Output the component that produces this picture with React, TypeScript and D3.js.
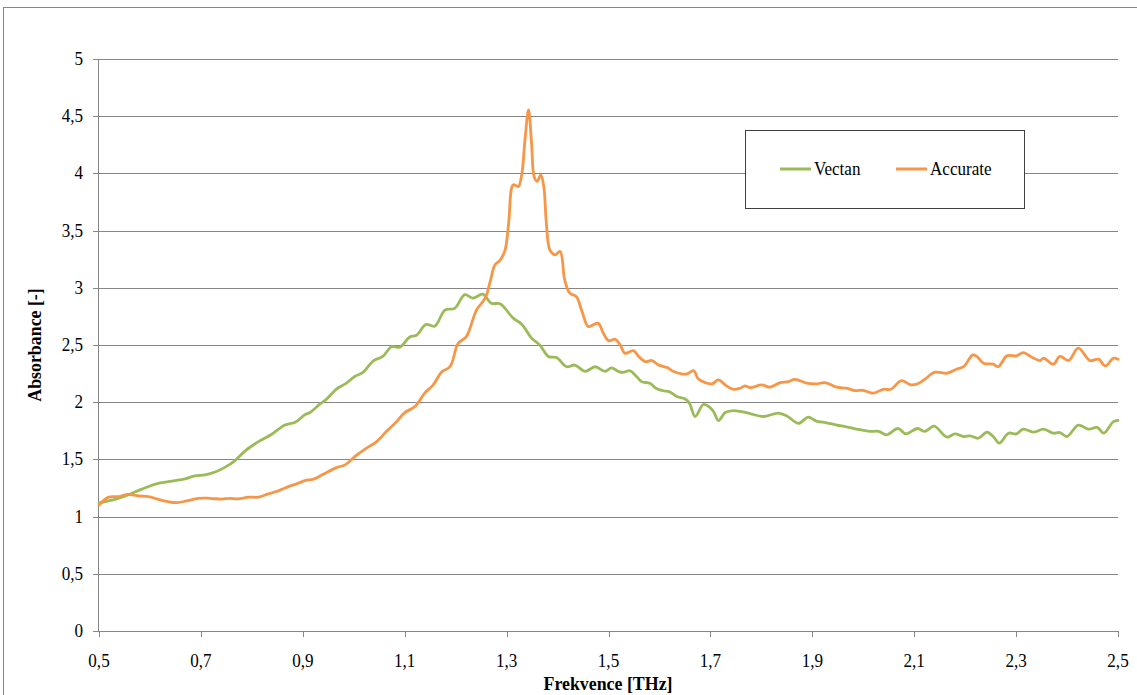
import React from 'react';
import * as d3 from 'd3';

// Absorbance spectra (frequency in THz)
const vectanFreq = [
  0.5, 0.531, 0.557, 0.584, 0.616, 0.643, 0.669, 0.688, 0.708, 0.728, 0.747, 0.767, 0.787, 0.813, 0.839,
  0.865, 0.885, 0.904, 0.914, 0.934, 0.945, 0.966, 0.985, 1.002, 1.018, 1.038, 1.057, 1.074, 1.09, 1.11,
  1.123, 1.142, 1.159, 1.179, 1.198, 1.218, 1.234, 1.253, 1.27, 1.287, 1.313, 1.33, 1.349, 1.365, 1.382,
  1.398, 1.418, 1.434, 1.454, 1.474, 1.493, 1.506, 1.519, 1.529, 1.542, 1.555, 1.565, 1.581, 1.594, 1.607,
  1.62, 1.634, 1.65, 1.659, 1.67, 1.686, 1.696, 1.706, 1.716, 1.729, 1.742, 1.758, 1.778, 1.804, 1.833,
  1.85, 1.873, 1.892, 1.908, 1.928, 1.948, 1.967, 1.987, 2.013, 2.03, 2.046, 2.068, 2.084, 2.106, 2.121,
  2.139, 2.164, 2.18, 2.197, 2.21, 2.226, 2.243, 2.255, 2.267, 2.285, 2.301, 2.314, 2.334, 2.354, 2.373,
  2.386, 2.4, 2.422, 2.442, 2.459, 2.472, 2.491, 2.5,
];
const vectanValues = [
  1.12, 1.15, 1.19, 1.24, 1.29, 1.31, 1.33, 1.355, 1.365, 1.39, 1.43, 1.49, 1.575, 1.655, 1.72,
  1.8, 1.825, 1.89, 1.91, 1.985, 2.02, 2.115, 2.165, 2.225, 2.26, 2.36, 2.4, 2.485, 2.48, 2.57,
  2.585, 2.68, 2.665, 2.805, 2.82, 2.94, 2.91, 2.945, 2.865, 2.86, 2.735, 2.68, 2.56, 2.5, 2.4,
  2.39, 2.31, 2.325, 2.27, 2.31, 2.27, 2.3, 2.27, 2.26, 2.275, 2.225, 2.18, 2.165, 2.12, 2.1,
  2.09, 2.05, 2.03, 1.99, 1.875, 1.98, 1.965, 1.92, 1.84, 1.91, 1.925, 1.92, 1.9, 1.875, 1.905,
  1.88, 1.815, 1.87, 1.835, 1.82, 1.8, 1.785, 1.765, 1.745, 1.745, 1.715, 1.77, 1.723, 1.77, 1.745,
  1.79, 1.695, 1.723, 1.7, 1.705, 1.685, 1.738, 1.7, 1.642, 1.729, 1.723, 1.764, 1.738, 1.764, 1.729,
  1.735, 1.7, 1.8, 1.764, 1.78, 1.729, 1.83, 1.84,
];

const accurateFreq = [
  0.5, 0.519, 0.539, 0.555, 0.578, 0.597, 0.617, 0.636, 0.653, 0.672, 0.695, 0.718, 0.741, 0.757, 0.773,
  0.793, 0.813, 0.832, 0.852, 0.872, 0.888, 0.904, 0.921, 0.94, 0.966, 0.983, 1.002, 1.025, 1.045, 1.064,
  1.084, 1.1, 1.12, 1.14, 1.156, 1.172, 1.189, 1.205, 1.221, 1.241, 1.258, 1.267, 1.277, 1.287, 1.297,
  1.304, 1.313, 1.323, 1.33, 1.336, 1.343, 1.349, 1.354, 1.36, 1.367, 1.373, 1.378, 1.385, 1.395, 1.405,
  1.414, 1.424, 1.437, 1.447, 1.46, 1.47, 1.48, 1.49, 1.5, 1.513, 1.523, 1.532, 1.549, 1.559, 1.572,
  1.585, 1.598, 1.615, 1.628, 1.644, 1.654, 1.667, 1.676, 1.69, 1.703, 1.716, 1.729, 1.745, 1.758, 1.768,
  1.778, 1.801, 1.817, 1.837, 1.853, 1.866, 1.889, 1.908, 1.925, 1.948, 1.967, 1.984, 2.0, 2.02, 2.039,
  2.054, 2.075, 2.092, 2.105, 2.12, 2.141, 2.164, 2.183, 2.197, 2.215, 2.223, 2.236, 2.255, 2.265, 2.282,
  2.301, 2.314, 2.331, 2.347, 2.354, 2.373, 2.386, 2.403, 2.422, 2.445, 2.462, 2.475, 2.491, 2.5,
];
const accurateValues = [
  1.1, 1.17, 1.175, 1.195, 1.18, 1.175, 1.15, 1.13, 1.122, 1.137, 1.16, 1.16, 1.152, 1.16, 1.155,
  1.17, 1.17, 1.198, 1.225, 1.262, 1.286, 1.315, 1.327, 1.37, 1.428, 1.452, 1.525, 1.598, 1.656, 1.743,
  1.83, 1.909, 1.962, 2.084, 2.151, 2.262, 2.311, 2.515, 2.573, 2.807, 2.909, 3.04, 3.2, 3.24, 3.33,
  3.565, 3.9, 3.885, 4.0, 4.29, 4.555, 4.264, 3.972, 3.93, 3.987, 3.885, 3.565, 3.33, 3.288, 3.317,
  3.07, 2.953, 2.923, 2.807, 2.661, 2.676, 2.69, 2.603, 2.538, 2.55, 2.5, 2.428, 2.451, 2.4, 2.355,
  2.364, 2.326, 2.303, 2.268, 2.247, 2.247, 2.276, 2.204, 2.171, 2.16, 2.195, 2.151, 2.113, 2.122, 2.142,
  2.128, 2.151, 2.131, 2.171, 2.18, 2.2, 2.166, 2.16, 2.171, 2.131, 2.122, 2.101, 2.104, 2.079, 2.113,
  2.113, 2.188, 2.154, 2.158, 2.198, 2.262, 2.253, 2.288, 2.311, 2.413, 2.4, 2.341, 2.332, 2.311, 2.405,
  2.405, 2.434, 2.393, 2.364, 2.384, 2.332, 2.4, 2.364, 2.472, 2.364, 2.376, 2.317, 2.384, 2.376,
];

const xTicks = [0.5, 0.7, 0.9, 1.1, 1.3, 1.5, 1.7, 1.9, 2.1, 2.3, 2.5];
const yTicks = [0, 0.5, 1, 1.5, 2, 2.5, 3, 3.5, 4, 4.5, 5];
const seriesNames = ['Vectan', 'Accurate'];
const seriesColors = ['#9bbb59', '#f79646'];

const W = 1137;
const H = 695;
const plot = { left: 99, right: 1118, top: 59, bottom: 631 };
const font = "'Liberation Serif', 'DejaVu Serif', serif";
const axisGray = '#868686';
const textStyle = { fontFamily: font };

const fmt = (v: number) => String(v).replace('.', ',');

// the source picture was squeezed sideways, so its serif text looks narrow
const Label = ({ x, y, anchor = 'start', bold = false, size = 19, sx = 0.9, rotate = 0, children }: any) => (
  <text
    transform={`translate(${x},${y}) rotate(${rotate}) scale(${sx},1)`}
    textAnchor={anchor}
    fontSize={size}
    fontWeight={bold ? 'bold' : 'normal'}
    fill="#000"
    style={textStyle}
  >
    {children}
  </text>
);

export default function App() {
  const x = d3.scaleLinear().domain([0.5, 2.5]).range([plot.left, plot.right]);
  const y = d3.scaleLinear().domain([0, 5]).range([plot.bottom, plot.top]);

  const line = d3
    .line<[number, number]>()
    .x(d => x(d[0]))
    .y(d => y(d[1]))
    .curve(d3.curveCatmullRom.alpha(0.5));

  const series = [
    vectanFreq.map((f, i) => [f, vectanValues[i]] as [number, number]),
    accurateFreq.map((f, i) => [f, accurateValues[i]] as [number, number]),
  ];

  const legendX = [780, 896];

  return (
    <svg width={W} height={H} style={{ position: 'absolute', left: 0, top: 0, background: '#fff' }}>
      {/* outer chart frame */}
      <rect x={3.5} y={7.5} width={W + 10} height={H + 10} fill="#fff" stroke={axisGray} />

      {/* horizontal gridlines */}
      {yTicks.slice(1).map(t => (
        <line
          key={'g' + t}
          x1={plot.left}
          x2={plot.right}
          y1={Math.round(y(t)) + 0.5}
          y2={Math.round(y(t)) + 0.5}
          stroke={axisGray}
        />
      ))}

      {/* y axis */}
      <line x1={plot.left - 0.5} x2={plot.left - 0.5} y1={plot.top} y2={plot.bottom} stroke={axisGray} />
      {yTicks.map(t => (
        <g key={'y' + t}>
          <line
            x1={plot.left - 6}
            x2={plot.left}
            y1={Math.round(y(t)) + 0.5}
            y2={Math.round(y(t)) + 0.5}
            stroke={axisGray}
          />
          <Label x={83} y={y(t) + 6} anchor="end">
            {fmt(t)}
          </Label>
        </g>
      ))}

      {/* x axis */}
      <line x1={plot.left} x2={plot.right} y1={plot.bottom + 0.5} y2={plot.bottom + 0.5} stroke={axisGray} />
      {xTicks.map(t => (
        <g key={'x' + t}>
          <line
            x1={Math.round(x(t)) + 0.5}
            x2={Math.round(x(t)) + 0.5}
            y1={plot.bottom}
            y2={plot.bottom + 6}
            stroke={axisGray}
          />
          <Label x={x(t)} y={667} anchor="middle">
            {fmt(t)}
          </Label>
        </g>
      ))}

      {/* axis titles */}
      <Label x={608} y={690} anchor="middle" bold sx={0.94}>
        Frekvence [THz]
      </Label>
      <Label x={41} y={345} anchor="middle" bold sx={0.94} rotate={-90}>
        Absorbance [-]
      </Label>

      {/* data lines */}
      {series.map((s, i) => (
        <path
          key={seriesNames[i]}
          d={line(s) ?? ''}
          fill="none"
          stroke={seriesColors[i]}
          strokeWidth={2.8}
          strokeLinejoin="round"
          strokeLinecap="round"
        />
      ))}

      {/* legend */}
      <rect x={745.5} y={130.5} width={279} height={78} fill="#fff" stroke="#404040" />
      {seriesNames.map((name, i) => (
        <g key={'l' + name}>
          <line x1={legendX[i]} x2={legendX[i] + 31} y1={169} y2={169} stroke={seriesColors[i]} strokeWidth={3} />
          <Label x={legendX[i] + 34} y={175}>
            {name}
          </Label>
        </g>
      ))}
    </svg>
  );
}
